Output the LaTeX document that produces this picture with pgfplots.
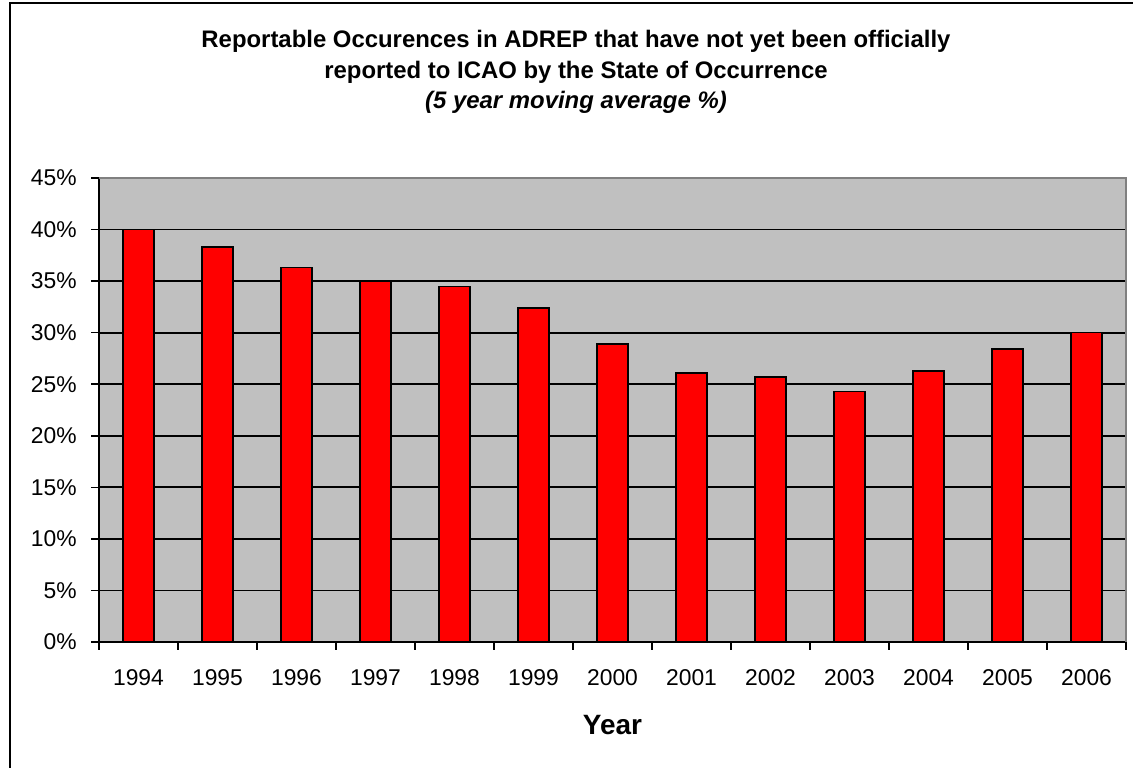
\documentclass[border=0pt]{standalone}
\usepackage{fontspec}
\setmainfont{Liberation Sans}
\usepackage{pgfplots}
\pgfplotsset{compat=1.18}
\definecolor{silver}{HTML}{C0C0C0}
\definecolor{edgegray}{HTML}{808080}
\definecolor{barred}{HTML}{FF0000}
\begin{document}
\begin{tikzpicture}
\useasboundingbox (0,0) rectangle (22.66cm,15.36cm);
% outer chart frame (right and bottom are cut off in the reference)
\draw[line width=0.04cm] (0.19cm,0) -- (0.19cm,15.3cm) -- (22.66cm,15.3cm);
% title
\node[anchor=base,font=\fontsize{13.6}{16}\selectfont\bfseries] at (11.52cm,14.4cm)
  {Reportable Occurences in ADREP that have not yet been officially};
\node[anchor=base,font=\fontsize{13.6}{16}\selectfont\bfseries] at (11.52cm,13.79cm)
  {reported to ICAO by the State of Occurrence};
\node[anchor=base,font=\fontsize{13.6}{16}\selectfont\bfseries\itshape] at (11.52cm,13.18cm)
  {(5 year moving average \%)};
\begin{axis}[
    at={(1.98cm,2.52cm)}, anchor=south west,
    scale only axis, width=20.54cm, height=9.28cm,
    ybar, bar width=0.62cm,
    xmin=-0.5, xmax=12.5, ymin=0, ymax=45,
    axis lines*=left,
    axis line style={line width=0.04cm, black},
    axis background/.style={fill=silver},
    xtick={-0.5,0.5,...,12.5},
    x tick label as interval,
    xticklabels={1994,1995,1996,1997,1998,1999,2000,2001,2002,2003,2004,2005,2006},
    ytick={0,5,...,45},
    yticklabels={0\%,5\%,10\%,15\%,20\%,25\%,30\%,35\%,40\%,45\%},
    tick align=outside, major tick length=0.16cm,
    every tick/.style={line width=0.03cm, black},
    ymajorgrids,
    major grid style={line width=0.035cm, black},
    tick label style={font=\fontsize{13}{15}\selectfont},
    /pgf/number format/assume math mode=true,
    xticklabel style={anchor=base, inner sep=0pt, yshift=-0.72cm},
    yticklabel style={anchor=east, inner sep=0pt, xshift=-0.28cm},
    xlabel={Year},
    xlabel style={font=\fontsize{15.9}{18}\selectfont\bfseries, anchor=base,
      at={(axis description cs:0.5,0)}, yshift=-1.86cm},
    clip=false,
]
\addplot[fill=barred, draw=black, line width=0.03cm] coordinates {
  (0,40.0) (1,38.3) (2,36.3) (3,35.0) (4,34.5) (5,32.4) (6,28.9)
  (7,26.1) (8,25.7) (9,24.3) (10,26.3) (11,28.4) (12,30.0)
};
\draw[edgegray, line width=0.04cm] (rel axis cs:0,1) -- (rel axis cs:1,1) -- (rel axis cs:1,0);
\end{axis}
\end{tikzpicture}
\end{document}
